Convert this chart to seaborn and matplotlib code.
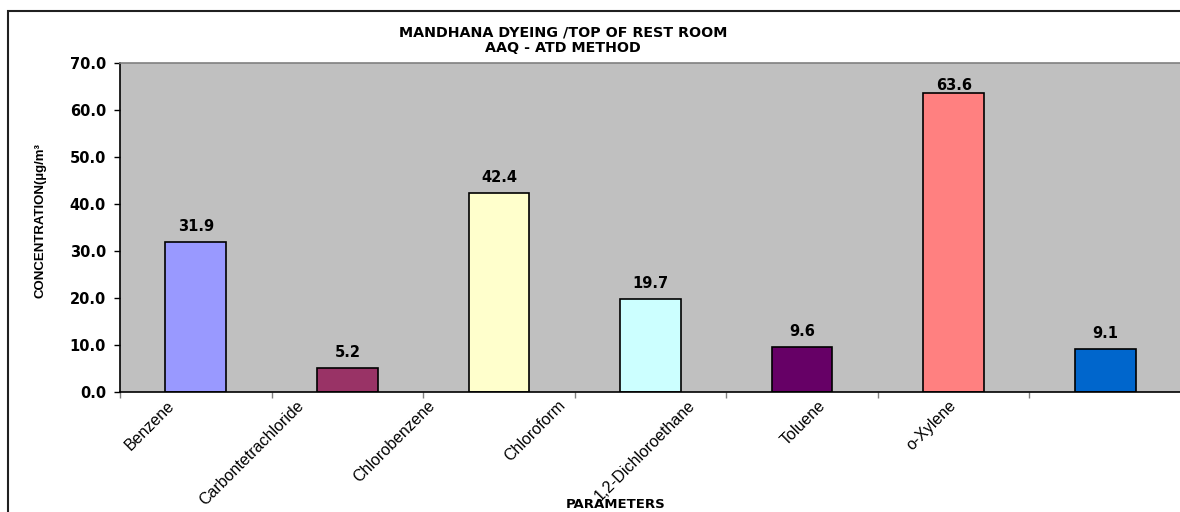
import matplotlib
matplotlib.use("Agg")
import matplotlib.pyplot as plt
import seaborn as sns
import pandas as pd
from matplotlib.patches import Rectangle

categories = ["Benzene", "Carbontetrachloride", "Chlorobenzene", "Chloroform",
              "1,2-Dichloroethane", "Toluene", "o-Xylene"]
values = [31.9, 5.2, 42.4, 19.7, 9.6, 63.6, 9.1]
colors = ["#9999FF", "#993366", "#FFFFCC", "#CCFFFF", "#660066", "#FF8080", "#0066CC"]
yticks = [0, 10, 20, 30, 40, 50, 60, 70]

df = pd.DataFrame({"param": categories, "value": values})

sns.set_theme(style="white")
plt.rcParams['font.family'] = ['DejaVu Sans']
plt.rcParams['text.color'] = 'black'
plt.rcParams['xtick.color'] = 'black'
plt.rcParams['ytick.color'] = 'black'

fig = plt.figure(figsize=(11.8, 5.12), dpi=100)
ax = fig.add_axes([120/1180, 1-392/512, (1181-120)/1180, (392-63)/512])
ax.set_facecolor("#C0C0C0")

sns.barplot(data=df, x="param", y="value", hue="param", palette=colors,
            legend=False, width=0.4, edgecolor="black", linewidth=1.2, ax=ax,
            saturation=1)

n = len(categories)
ymax = 70
ax.set_xlim(-0.5, n - 0.5)
ax.set_ylim(0, ymax)
ax.set_yticks(yticks)
ax.set_yticklabels([f"{v:.1f}" for v in yticks], fontsize=10.5, fontweight="bold")

# value labels: a fixed gap above each bar, kept below the top of the plot area
gap = ymax * 11 / 329
cap = ymax - ymax * 27 / 329
for i, v in enumerate(values):
    ax.text(i, min(v + gap, cap), f"{v:.1f}", ha="center", va="baseline",
            fontsize=10.5, fontweight="bold")

# category labels laid out the way the original renderer spaced them
label_start, label_step = -0.16, 0.86
ax.set_xticks([label_start + label_step * i for i in range(n)])
ax.set_xticklabels(categories, rotation=45, ha="right", va="center",
                   rotation_mode="anchor", fontsize=11.5,
                   family=["Liberation Sans", "DejaVu Sans"])
ax.tick_params(axis="x", which="major", length=0, pad=8)
ax.set_xticks([i - 0.5 for i in range(n + 1)], minor=True)
ax.tick_params(axis="x", which="minor", length=4, color="#808080", width=1,
               bottom=True)
ax.tick_params(axis="y", which="major", length=4, color="black", width=1, pad=6,
               left=True)

for s in ["left", "bottom"]:
    ax.spines[s].set_color("black")
    ax.spines[s].set_linewidth(1.2)
ax.spines["top"].set_color("#808080")
ax.spines["top"].set_linewidth(1.2)
ax.spines["right"].set_visible(False)

ax.set_xlabel("")
ax.set_ylabel("")

fig.text(563/1180, 1-33/512, "MANDHANA DYEING /TOP OF REST ROOM",
         ha="center", va="center", fontsize=10.3, fontweight="bold")
fig.text(563/1180, 1-48/512, "AAQ - ATD METHOD",
         ha="center", va="center", fontsize=10.3, fontweight="bold")
fig.text(616/1180, 1-505/512, "PARAMETERS", ha="center", va="center",
         fontsize=9.5, fontweight="bold")
fig.text(41/1180, 1-221/512, "CONCENTRATION(µg/m³", rotation=90, ha="center",
         va="center", fontsize=9.5, fontweight="bold",
         family=["Liberation Sans", "DejaVu Sans"])

fig.patches.append(Rectangle((8/1180, -0.05), 1.2, 1-11/512+0.05,
                             transform=fig.transFigure, fill=False,
                             edgecolor="#202020", linewidth=1.5, zorder=0))

fig.savefig("out.png", dpi=100, facecolor="white")
